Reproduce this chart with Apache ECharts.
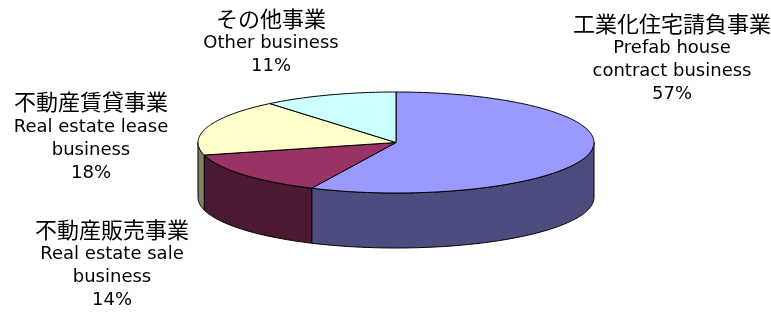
<!DOCTYPE html>
<html>
<head>
    <meta charset="utf-8">
    <title>事業別売上構成</title>
    <script src="https://cdn.jsdelivr.net/npm/echarts@6/dist/echarts.min.js"></script>
    <style>
        html, body { margin: 0; padding: 0; background: #fff; }
        #main { width: 771px; height: 313px; }
    </style>
</head>
<body>
<div id="main"></div>
<script>
    // data
    var namesJa = ['工業化住宅請負事業', '不動産販売事業', '不動産賃貸事業', 'その他事業'];
    var namesEn = ['Prefab house\ncontract business', 'Real estate sale\nbusiness', 'Real estate lease\nbusiness', 'Other business'];
    var values = [57, 14, 18, 11];

    // colours: top face / side wall
    var topColors = ['#9999FF', '#993366', '#FFFFCC', '#CCFFFF'];
    var sideColors = ['#4C4C7F', '#4C1933', '#7F7F66', '#667F7F'];

    // pie geometry
    var cx = 396, cy = 142.5, rx = 198, ry = 50.5, depth = 55;
    // label blocks: [center x, top y]
    var labelPos = [[672, 10], [112, 216], [91, 88.5], [271, 5]];

    var total = values.reduce(function (a, b) { return a + b; }, 0);
    var starts = [];
    var acc = 0;
    values.forEach(function (v) { starts.push(acc); acc += v; });

    function ang(v) { return v / total * Math.PI * 2; }
    function pt(t, dy) {
        return [cx + rx * Math.sin(t), cy - ry * Math.cos(t) + (dy || 0)];
    }
    function arc(a, b, dy) {
        var pts = [];
        var n = Math.max(2, Math.ceil((b - a) / (Math.PI / 180)));
        for (var i = 0; i <= n; i++) pts.push(pt(a + (b - a) * i / n, dy));
        return pts;
    }

    var chart = echarts.init(document.getElementById('main'));

    var option = {
        animation: false,
        series: [
            {
                // side walls (only front half visible)
                type: 'custom',
                coordinateSystem: 'none',
                data: values,
                renderItem: function (params, api) {
                    var i = params.dataIndex;
                    var a = ang(starts[i]), b = ang(starts[i] + api.value(0));
                    var s = Math.max(a, Math.PI / 2), e = Math.min(b, Math.PI * 1.5);
                    if (e <= s) return null;
                    var pts = arc(s, e, 0).concat(arc(s, e, depth).reverse());
                    return {
                        type: 'polygon',
                        shape: { points: pts },
                        style: { fill: sideColors[i], stroke: '#000', lineWidth: 1 }
                    };
                }
            },
            {
                // top faces
                type: 'custom',
                coordinateSystem: 'none',
                data: values,
                renderItem: function (params, api) {
                    var i = params.dataIndex;
                    var a = ang(starts[i]), b = ang(starts[i] + api.value(0));
                    var pts = [[cx, cy]].concat(arc(a, b, 0));
                    return {
                        type: 'polygon',
                        shape: { points: pts },
                        style: { fill: topColors[i], stroke: '#000', lineWidth: 1 }
                    };
                }
            }
        ],
        graphic: values.map(function (v, i) {
            var en = namesEn[i].split('\n').map(function (s) { return '{en|' + s + '}'; }).join('\n');
            return {
                type: 'text',
                x: labelPos[i][0],
                y: labelPos[i][1],
                style: {
                    text: '{ja|' + namesJa[i] + '}\n' + en + '\n{en|' + v + '%}',
                    align: 'center',
                    verticalAlign: 'top',
                    fill: '#000',
                    rich: {
                        ja: { fontFamily: 'Noto Sans CJK JP', fontSize: 22, lineHeight: 27, fill: '#000' },
                        en: { fontFamily: 'DejaVu Sans', fontSize: 18, lineHeight: 23, fill: '#000' }
                    }
                }
            };
        })
    };

    chart.setOption(option);
    window.addEventListener('resize', chart.resize);
</script>
</body>
</html>
